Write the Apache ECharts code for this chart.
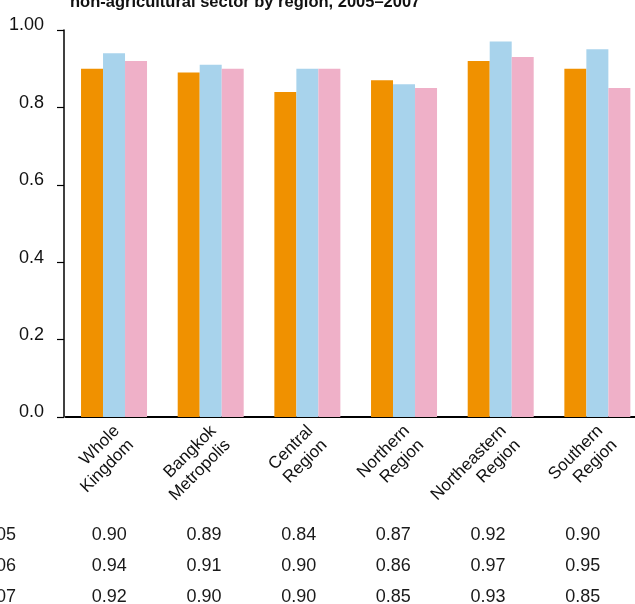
<!DOCTYPE html>
<html>
<head>
<meta charset="utf-8">
<script src="https://cdn.jsdelivr.net/npm/echarts@6/dist/echarts.min.js"></script>
<style>html,body{margin:0;padding:0;background:#fff}#c{width:635px;height:604px}</style>
</head>
<body>
<div id="c"></div>
<script>
const titleText = 'non-agricultural sector by region, 2005\u20132007';
const categories = ['Whole\nKingdom', 'Bangkok\nMetropolis', 'Central\nRegion', 'Northern\nRegion', 'Northeastern\nRegion', 'Southern\nRegion'];
const years = ['2005', '2006', '2007'];
const values2005 = [0.90, 0.89, 0.84, 0.87, 0.92, 0.90];
const values2006 = [0.94, 0.91, 0.90, 0.86, 0.97, 0.95];
const values2007 = [0.92, 0.90, 0.90, 0.85, 0.93, 0.85];
const colors = ['#F09100', '#A8D3EC', '#EFB0C8'];

const allValues = [values2005, values2006, values2007];
const tableData = [];
allValues.forEach((arr, r) => arr.forEach((v, i) => tableData.push([i, years[r], v])));

const chart = echarts.init(document.getElementById('c'));
const font = "'Liberation Sans', Arial, Helvetica, sans-serif";
chart.setOption({
  animation: false,
  title: {
    text: titleText, left: 65, top: -11,
    textStyle: { fontFamily: font, fontWeight: 'bold', fontSize: 16.5, color: '#111' }
  },
  grid: [
    { left: 65.7, top: 30, width: 580, height: 387, outerBoundsMode: 'none', containLabel: false },
    { left: 62, top: 520, width: 568, height: 93, outerBoundsMode: 'none', containLabel: false }
  ],
  xAxis: [
    {
      type: 'category', data: categories, gridIndex: 0,
      axisLine: { lineStyle: { color: '#000', width: 2 } },
      axisTick: { show: false },
      axisLabel: { rotate: 45, interval: 0, margin: 0, verticalAlign: 'top', padding: [0, 6, 0, 0], fontSize: 17, lineHeight: 20, color: '#111', fontFamily: font }
    },
    {
      type: 'category', data: categories, gridIndex: 1,
      axisLine: { show: false }, axisTick: { show: false }, axisLabel: { show: false }
    }
  ],
  yAxis: [
    {
      type: 'value', min: 0, max: 1, interval: 0.2, gridIndex: 0, offset: 1.7,
      splitLine: { show: false },
      axisLine: { show: true, lineStyle: { color: '#000', width: 1.5 } },
      axisTick: { show: true, length: 7, lineStyle: { color: '#000', width: 1.2 } },
      axisLabel: {
        margin: 20, fontSize: 18, color: '#111', fontFamily: font, verticalAlign: 'bottom', lineHeight: 9,
        formatter: v => v === 1 ? '1.00' : v.toFixed(1)
      }
    },
    {
      type: 'category', data: years, inverse: true, gridIndex: 1,
      axisLine: { show: false }, axisTick: { show: false }, splitLine: { show: false },
      axisLabel: { margin: 46, fontSize: 18, color: '#1a1a1a', fontFamily: font }
    }
  ],
  series: [
    { type: 'bar', name: '2005', data: values2005, barWidth: 22, barGap: '0%', itemStyle: { color: colors[0] } },
    { type: 'bar', name: '2006', data: values2006, barWidth: 22, barGap: '0%', itemStyle: { color: colors[1] } },
    { type: 'bar', name: '2007', data: values2007, barWidth: 22, barGap: '0%', itemStyle: { color: colors[2] } },
    {
      type: 'scatter', xAxisIndex: 1, yAxisIndex: 1, data: tableData, symbolSize: 0,
      itemStyle: { color: '#fff', opacity: 1 },
      label: { show: true, position: 'inside', fontSize: 18, color: '#1a1a1a', textBorderWidth: 0, opacity: 1, fontFamily: font, formatter: p => p.value[2].toFixed(2) }
    }
  ]
});
</script>
</body>
</html>
